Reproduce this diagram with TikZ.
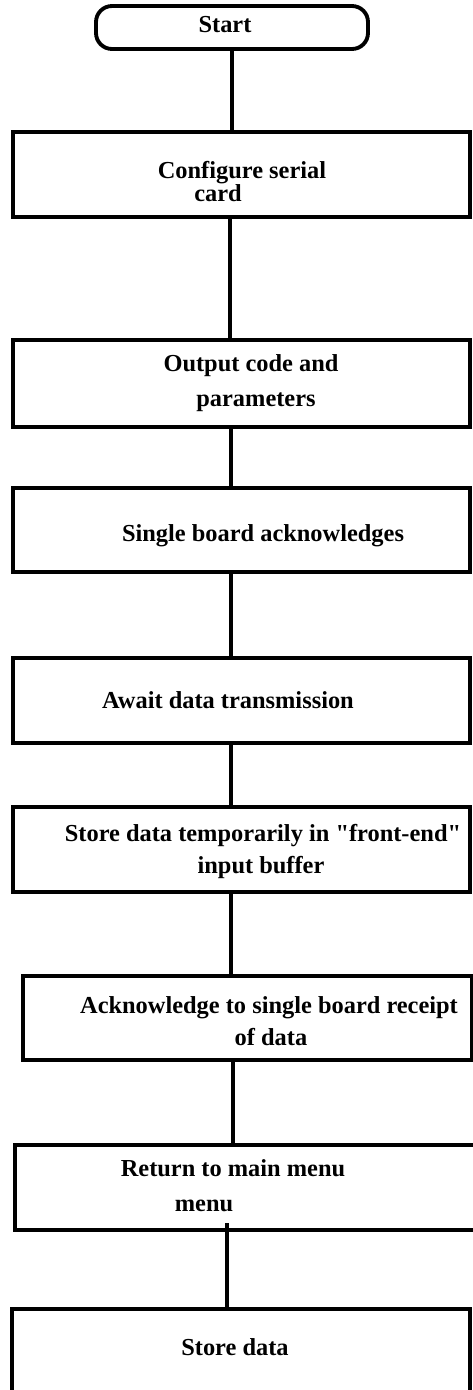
\documentclass[tikz,border=0pt]{standalone}
\usepackage{fontspec}
\setmainfont{Liberation Serif}[Ligatures=TeXOff]
\begin{document}
\begin{tikzpicture}[x=0.75pt,y=-0.75pt,
  stepbox/.style={draw, line width=2.9pt, rectangle, inner sep=0pt, outer sep=0pt},
  termbox/.style={draw, line width=2.9pt, rectangle, rounded corners=12pt, inner sep=0pt, outer sep=0pt},
  lbl/.style={anchor=base, inner sep=0pt, font=\fontsize{18.3}{20}\selectfont\bfseries},
  flow/.style={line width=2.6pt}]
\useasboundingbox (0,0) rectangle (473,1390);
\clip (0,0) rectangle (473,1390);

% terminal and process boxes
\node[termbox, minimum width=272*0.75pt, minimum height=43*0.75pt] (start) at (232,27.5) {};
\node[stepbox, minimum width=457*0.75pt, minimum height=85*0.75pt] (b1) at (241.5,174.5) {};
\node[stepbox, minimum width=457*0.75pt, minimum height=87*0.75pt] (b2) at (241.5,383.5) {};
\node[stepbox, minimum width=457*0.75pt, minimum height=84*0.75pt] (b3) at (241.5,530) {};
\node[stepbox, minimum width=457*0.75pt, minimum height=85*0.75pt] (b4) at (241.5,700.5) {};
\node[stepbox, minimum width=457*0.75pt, minimum height=85*0.75pt] (b5) at (241.5,849.5) {};
\node[stepbox, minimum width=449*0.75pt, minimum height=84*0.75pt] (b6) at (247.5,1018) {};
\node[stepbox, minimum width=465*0.75pt, minimum height=85*0.75pt] (b7) at (247.5,1187.5) {};
\node[stepbox, minimum width=458*0.75pt, minimum height=91*0.75pt] (b8) at (241,1354.5) {};

% labels
\node[lbl] (t0) at (225,32) {Start};
\node[lbl] (t1a) at (242,178) {Configure serial};
\node[lbl] (t1b) at (218,201) {card};
\node[lbl] (t2a) at (251,371) {Output code and};
\node[lbl] (t2b) at (256,406) {parameters};
\node[lbl] (t3) at (263,541) {Single board acknowledges};
\node[lbl] (t4) at (228,708) {Await data transmission};
\node[lbl] (t5a) at (263,841) {Store data temporarily in "front-end"};
\node[lbl] (t5b) at (261,873) {input buffer};
\node[lbl] (t6a) at (269,1013) {Acknowledge to single board receipt};
\node[lbl] (t6b) at (271,1045) {of data};
\node[lbl] (t7a) at (233,1176) {Return to main menu};
\node[lbl] (t7b) at (204,1211) {menu};
\node[lbl] (t8) at (235,1355) {Store data};

% connectors
\coordinate (s1) at (230,0);
\coordinate (s2) at (231,0);
\coordinate (s3) at (233,0);
\coordinate (s4) at (227,1223);
\draw[flow] (start.south) -- (start.south |- b1.north);
\draw[flow] (b1.south -| s1) -- (b2.north -| s1);
\draw[flow] (b2.south -| s2) -- (b3.north -| s2);
\draw[flow] (b3.south -| s2) -- (b4.north -| s2);
\draw[flow] (b4.south -| s2) -- (b5.north -| s2);
\draw[flow] (b5.south -| s2) -- (b6.north -| s2);
\draw[flow] (b6.south -| s3) -- (b7.north -| s3);
\draw[flow] (s4) -- (b8.north -| s4);
\end{tikzpicture}
\end{document}
